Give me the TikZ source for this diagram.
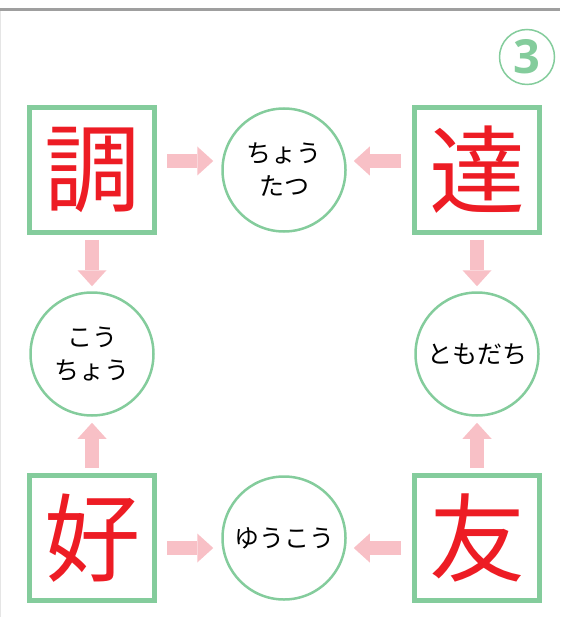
\documentclass[tikz,border=0pt]{standalone}
\usepackage{fontspec}
\newfontfamily\jpfont{Noto Sans CJK JP}
\newfontfamily\numfont{Open Sans}
\usetikzlibrary{arrows.meta}
\definecolor{kgreen}{HTML}{84CC9C}
\definecolor{kpink}{HTML}{F8C0C6}
\definecolor{kred}{HTML}{ED1C24}
\tikzset{kanji/.style={draw=kgreen,line width=5pt,minimum size=125pt,inner sep=0pt,text=kred,font=\jpfont\fontsize{96}{96}\selectfont}}
\tikzset{yomi/.style={circle,draw=kgreen,line width=2.5pt,minimum size=123pt,inner sep=0pt,align=center,font=\jpfont\fontsize{25}{33}\selectfont}}
\tikzset{parr/.style={draw=kpink,line width=14pt,-{Triangle[width=29pt,length=16pt,line width=0pt]}}}

\begin{document}
\begin{tikzpicture}[x=1pt,y=-1pt]
  \useasboundingbox (0,0) rectangle (560,617);
  \draw[gray!75,line width=3pt] (0,10) -- (560,10);
  \draw[gray!20,line width=1pt] (0.5,11.5) -- (0.5,617);
  \node[circle,draw=kgreen,line width=1.5pt,minimum size=55pt,inner sep=0pt,text=kgreen,font=\numfont\bfseries\fontsize{47}{47}\selectfont] (num) at (527,57) {3};
  \node[kanji] (chou) at (92,170) {調};
  \node[kanji] (tatsu) at (477,170) {達};
  \node[kanji] (kou) at (92,538) {好};
  \node[kanji] (tomo) at (477,538) {友};
  \node[yomi] (choutatsu) at (284,170) {ちょう\\たつ};
  \node[yomi] (kouchou) at (92,354) {こう\\ちょう};
  \node[yomi] (tomodachi) at (477,354) {ともだち};
  \node[yomi] (yuukou) at (284,538) {ゆうこう};
  \draw[parr,shorten <=10pt,shorten >=8pt] ([yshift=9pt]chou.east) -- ([yshift=9pt]choutatsu.west);
  \draw[parr,shorten <=11pt,shorten >=7pt] ([yshift=9pt]tatsu.west) -- ([yshift=9pt]choutatsu.east);
  \draw[parr,shorten <=10pt,shorten >=8pt] ([yshift=-10pt]kou.east) -- ([yshift=-10pt]yuukou.west);
  \draw[parr,shorten <=11pt,shorten >=7pt] ([yshift=-10pt]tomo.west) -- ([yshift=-10pt]yuukou.east);
  \draw[parr,shorten <=5pt,shorten >=5pt] (chou) -- (kouchou);
  \draw[parr,shorten <=5pt,shorten >=6pt] (kou) -- (kouchou);
  \draw[parr,shorten <=5pt,shorten >=5pt] (tatsu) -- (tomodachi);
  \draw[parr,shorten <=5pt,shorten >=6pt] (tomo) -- (tomodachi);
\end{tikzpicture}
\end{document}
